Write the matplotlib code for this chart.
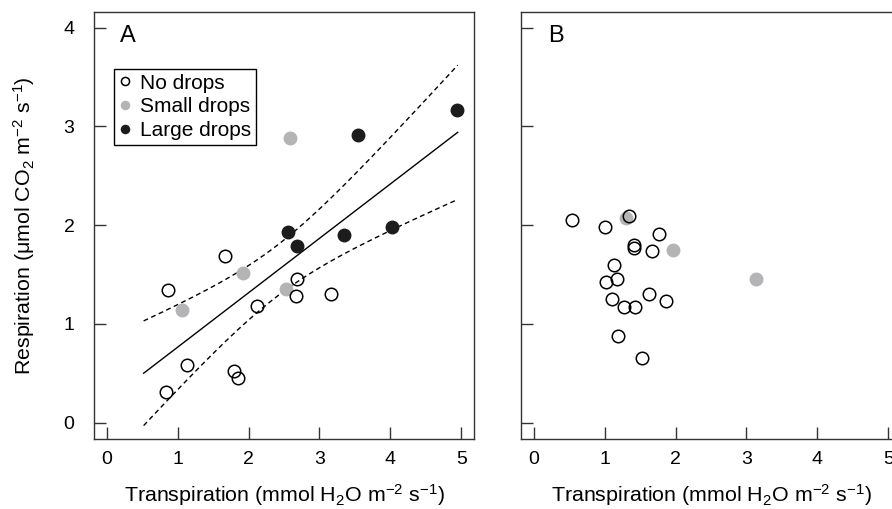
import numpy as np
import matplotlib
matplotlib.use("Agg")
from matplotlib import pyplot as plt

plt.rcParams['font.family'] = ['Liberation Sans', 'DejaVu Sans']
plt.rcParams['mathtext.fontset'] = 'custom'
plt.rcParams['mathtext.rm'] = 'Liberation Sans'
plt.rcParams['mathtext.it'] = 'Liberation Sans:italic'
plt.rcParams['mathtext.bf'] = 'Liberation Sans:bold'

# panel A: transpiration vs respiration
a_none_x = [0.83, 1.13, 0.87, 1.67, 1.79, 1.85, 2.12, 2.69, 2.67, 3.16]
a_none_y = [0.31, 0.58, 1.34, 1.69, 0.52, 0.45, 1.185, 1.455, 1.28, 1.30]
a_small_x = [1.06, 1.92, 2.58, 2.53]
a_small_y = [1.14, 1.52, 2.88, 1.35]
a_large_x = [2.55, 2.69, 3.34, 3.54, 4.02, 4.94]
a_large_y = [1.93, 1.79, 1.90, 2.91, 1.985, 3.17]

# panel B
b_none_x = [0.54, 1.00, 1.34, 1.76, 1.42, 1.42, 1.67, 1.13, 1.02, 1.18,
            1.11, 1.27, 1.43, 1.63, 1.87, 1.19, 1.525]
b_none_y = [2.056, 1.98, 2.09, 1.91, 1.80, 1.77, 1.735, 1.60, 1.42, 1.45,
            1.256, 1.175, 1.175, 1.30, 1.23, 0.88, 0.66]
b_small_x = [1.30, 1.97, 3.13]
b_small_y = [2.07, 1.75, 1.45]

labels = ["No drops", "Small drops", "Large drops"]
ticks_x = [0, 1, 2, 3, 4, 5]
ticks_y = [0, 1, 2, 3, 4]

GREY = '#b4b4b6'
BLACK = '#1c1c1c'
SPINE = '#333333'
MS = 9

fig = plt.figure(figsize=(8.92, 5.09), dpi=100)
ax1 = fig.add_axes([0.1054, 0.1375, 0.426, 0.8395])
ax2 = fig.add_axes([0.5841, 0.1375, 0.426, 0.8395])

xlab = r'Transpiration (mmol H$_2$O m$^{-2}$ s$^{-1}$)'
ylab = r'Respiration ($\mathregular{\mu}$mol CO$_2$ m$^{-2}$ s$^{-1}$)'

for ax in (ax1, ax2):
    ax.set_xlim(-0.18, 5.18)
    ax.set_ylim(-0.165, 4.16)
    ax.set_xticks(ticks_x)
    ax.set_yticks(ticks_y)
    ax.tick_params(direction='in', length=8.5, width=1, color=SPINE,
                   labelsize=14, top=False, right=False)
    ax.tick_params(axis='x', pad=8.5)
    ax.tick_params(axis='y', pad=14)
    for s in ax.spines.values():
        s.set_color(SPINE)
        s.set_linewidth(1)
    ax.set_xlabel(xlab, fontsize=15.4)
    ax.xaxis.set_label_coords(0.5, -0.102)

ax2.set_yticklabels([])

# regression with 95% confidence band (all points of panel A)
xa = np.array(a_none_x + a_small_x + a_large_x)
ya = np.array(a_none_y + a_small_y + a_large_y)
n = len(xa)
slope, icpt = np.polyfit(xa, ya, 1)
resid = ya - (icpt + slope * xa)
s = np.sqrt(np.sum(resid ** 2) / (n - 2))
sxx = np.sum((xa - xa.mean()) ** 2)
t975 = 2.101  # t quantile, 18 df
xx = np.linspace(0.52, 4.95, 200)
fit = icpt + slope * xx
half = t975 * s * np.sqrt(1.0 / n + (xx - xa.mean()) ** 2 / sxx)
ax1.plot(xx, fit, color='k', lw=1)
ax1.plot(xx, fit + half, color='k', lw=1, ls=(0, (3.5, 2.5)))
ax1.plot(xx, fit - half, color='k', lw=1, ls=(0, (3.5, 2.5)))

ax1.plot(a_small_x, a_small_y, 'o', ms=MS, mfc=GREY, mec=GREY, label=labels[1])
ax1.plot(a_large_x, a_large_y, 'o', ms=MS, mfc=BLACK, mec=BLACK, label=labels[2])
ax1.plot(a_none_x, a_none_y, 'o', ms=MS, mfc='none', mec='k', mew=1.1,
         label=labels[0])

ax2.plot(b_small_x, b_small_y, 'o', ms=MS, mfc=GREY, mec=GREY)
ax2.plot(b_none_x, b_none_y, 'o', ms=MS, mfc='none', mec='k', mew=1.1)

h, l = ax1.get_legend_handles_labels()
order = [2, 0, 1]
leg = ax1.legend([h[i] for i in order], [l[i] for i in order],
                 loc='upper left', bbox_to_anchor=(0.0526, 0.867),
                 borderaxespad=0, fancybox=False, edgecolor='k',
                 fontsize=15, markerscale=0.65, handlelength=0.55,
                 handletextpad=0.45, labelspacing=0.22, borderpad=0.25,
                 framealpha=1)
leg.get_frame().set_linewidth(1)

ax1.set_ylabel(ylab, fontsize=15.4)
ax1.yaxis.set_label_coords(-0.15, 0.5)

ax1.text(0.068, 0.93, 'A', transform=ax1.transAxes, fontsize=17)
ax2.text(0.071, 0.93, 'B', transform=ax2.transAxes, fontsize=17)

fig.savefig('out.png', dpi=100)
